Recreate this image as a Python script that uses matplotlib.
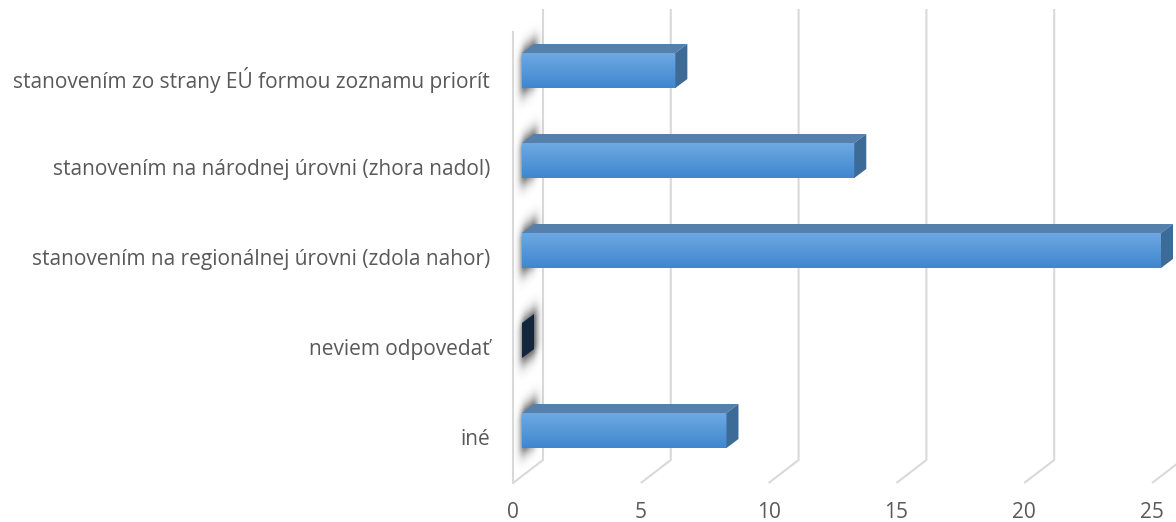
import numpy as np
import matplotlib
matplotlib.use("Agg")
import matplotlib.pyplot as plt
from matplotlib.patches import Polygon
from matplotlib.colors import LinearSegmentedColormap

categories = [
    "stanovením zo strany EÚ formou zoznamu priorít",
    "stanovením na národnej úrovni (zhora nadol)",
    "stanovením na regionálnej úrovni (zdola nahor)",
    "neviem odpovedať",
    "iné",
]
values = [6, 13, 25, 0, 8]
ticks = [0, 5, 10, 15, 20, 25]

# layout: pixel scale of the fake 3d view
PXX = 25.56      # px per unit on x
PXY = 90.0       # px per category
X0PX = 513       # px of value 0 at front
Y0PX = 70.5      # px of first bar centre
W, H = 1176, 522


def ux(px):
    return px / PXX


def uy(px):
    return px / PXY


fig = plt.figure(figsize=(W / 100, H / 100), dpi=100)
ax = fig.add_axes([0, 0, 1, 1])
ax.axis("off")

xmin, xmax = ux(0 - X0PX), ux(W - X0PX)
ymin, ymax = uy(H - Y0PX), uy(0 - Y0PX)

grid_col = "#d9d9d9"
txt_col = "#595959"
fs = 15
depth_x, depth_y = ux(30), uy(23)
floor_front = uy(483 - Y0PX)
wall_top = uy(9 - Y0PX)

# back wall gridlines + floor diagonals
for t in ticks:
    ax.plot([t + depth_x, t + depth_x, t], [wall_top, floor_front - depth_y, floor_front],
            color=grid_col, lw=1.5, zorder=1, solid_capstyle="butt")
    ax.text(t, uy(512 - Y0PX), str(t), ha="center", va="center",
            fontsize=fs, color=txt_col, family="Open Sans")

# left side wall front edge
ax.plot([0, 0], [uy(32 - Y0PX), floor_front], color=grid_col, lw=1.5, zorder=1)

# soft shadows of the bars on the side wall (computed on a pixel grid)
px = np.arange(513, 544) + 0.5
py = np.arange(0, 484) + 0.5
PX, PY = np.meshgrid(px, py)
alpha = np.zeros_like(PX)
for i in range(len(categories)):
    cy = Y0PX + PXY * i
    c = cy - (PX - 522) * 0.8 + 2
    d = np.maximum(0, np.abs(PY - c) - 12)
    a = np.exp(-(d / 13.0) ** 2)
    hx = np.exp(-(np.maximum(0, np.abs(PX - 529) - 3) / 6.0) ** 2)
    alpha = np.maximum(alpha, 0.72 * a * hx)
shadow = np.zeros(alpha.shape + (4,))
shadow[..., :3] = 0.12
shadow[..., 3] = alpha
ax.imshow(shadow, extent=(ux(513 - X0PX), ux(544 - X0PX), floor_front, uy(0 - Y0PX)),
          origin="upper", aspect="auto", zorder=2, interpolation="bilinear")

# bars
h = uy(17.5)
bx = ux(9)
dx, dy = ux(12), uy(9)
grad = np.linspace(0, 1, 50)[:, None]
cmap = LinearSegmentedColormap.from_list("f", ["#6ea9e2", "#3f86cf"])

for i, (lab, v) in enumerate(zip(categories, values)):
    yc = i
    top, bot = yc - h, yc + h
    x1 = bx + v
    if v > 0:
        ax.imshow(grad, cmap=cmap, extent=(bx, x1, bot, top), origin="upper",
                  aspect="auto", zorder=3, interpolation="bilinear")
        ax.add_patch(Polygon([(bx, top), (bx + dx, top - dy), (x1 + dx, top - dy), (x1, top)],
                             closed=True, fc="#5580ab", ec="none", zorder=3))
        side = "#3d6b98"
    else:
        side = "#13263b"
    ax.add_patch(Polygon([(x1, top), (x1 + dx, top - dy), (x1 + dx, bot - dy), (x1, bot)],
                         closed=True, fc=side, ec="none", zorder=3))
    ax.text(ux(490 - X0PX), yc + uy(9.5), lab, ha="right", va="center",
            fontsize=fs, color=txt_col, family="Open Sans")

ax.set_xlim(xmin, xmax)
ax.set_ylim(ymin, ymax)

fig.savefig("out.png", dpi=100)
